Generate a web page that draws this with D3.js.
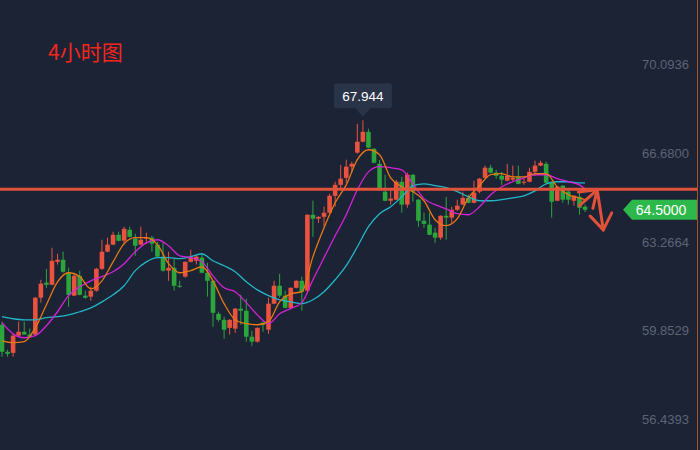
<!DOCTYPE html>
<html><head><meta charset="utf-8">
<script src="https://cdn.jsdelivr.net/npm/d3@7/dist/d3.min.js"></script>
<style>html,body{margin:0;padding:0;background:#1c2335;}svg{display:block}</style>
</head><body><svg id="c" width="700" height="450"></svg>
<script>
// ---- DATA ----
const title = "4小时图";
const opens = [60.08,59.04,59.00,59.66,59.81,59.70,59.70,61.12,61.70,61.62,62.50,62.58,62.08,61.20,61.96,61.20,61.16,61.39,62.23,62.89,63.16,63.54,63.31,63.73,63.39,63.16,63.39,63.43,63.16,62.70,62.16,62.27,61.58,61.93,62.50,62.54,62.66,62.08,61.77,60.50,60.27,59.96,59.93,60.70,60.62,59.62,59.43,60.16,59.89,60.89,61.58,61.20,60.73,61.50,61.77,61.39,64.31,64.16,64.23,64.39,65.04,65.46,65.73,66.16,66.70,67.12,67.50,66.85,66.27,65.20,64.85,64.89,65.58,64.70,65.85,64.89,64.08,63.93,63.62,63.43,64.27,64.20,64.50,64.70,64.96,64.77,65.20,65.73,66.12,65.93,65.81,65.62,65.66,65.77,65.54,65.58,65.96,66.20,66.27,65.54,64.85,65.43,65.20,64.85,65.00,64.62];
const closes = [59.04,58.96,59.66,59.81,59.70,59.62,61.12,61.66,61.62,62.54,62.58,62.12,61.23,61.96,61.23,61.12,61.39,62.23,62.89,63.16,63.54,63.31,63.77,63.46,63.12,63.35,63.43,63.20,62.70,62.16,62.27,61.58,61.54,62.50,62.66,62.70,62.08,61.77,60.54,60.27,59.89,60.27,60.70,60.62,59.62,59.43,59.96,60.08,60.89,61.58,61.20,60.73,61.50,61.77,61.35,64.31,64.16,64.23,64.39,65.04,65.46,65.70,66.16,66.27,67.12,67.50,66.89,66.31,65.27,64.85,64.93,65.58,64.70,65.85,65.20,64.08,63.96,63.54,63.43,64.27,64.20,64.50,64.66,64.96,64.77,65.16,65.70,66.12,65.93,65.81,65.66,65.81,65.73,65.50,65.58,65.96,66.20,66.31,65.54,64.81,65.39,64.89,64.89,65.04,64.58,64.50];
const highs = [60.20,59.12,59.73,60.20,60.20,59.93,61.14,61.81,62.23,63.04,62.81,62.89,62.27,62.08,62.16,61.39,61.54,62.27,63.35,63.43,63.66,63.66,63.85,63.85,63.58,63.85,63.62,63.50,63.27,63.23,62.89,62.62,61.77,62.52,62.96,62.77,62.81,62.46,61.79,60.58,60.39,60.29,60.72,61.23,61.08,59.85,59.98,60.20,61.12,61.77,62.04,61.39,61.52,61.79,61.93,64.33,64.85,64.25,64.62,65.12,65.58,66.23,66.43,66.35,67.81,67.944,67.62,66.87,66.42,65.85,65.27,65.65,65.77,65.93,65.87,64.91,64.39,64.39,63.81,64.29,65.00,64.62,64.89,65.20,65.08,65.62,65.72,66.20,66.23,66.04,65.96,66.27,66.20,66.20,65.73,66.12,66.39,66.39,66.35,65.56,65.41,65.45,65.27,65.06,65.16,64.70];
const lows = [58.85,58.85,58.85,59.62,59.70,59.58,59.70,60.93,61.50,61.60,62.39,62.08,60.77,61.18,61.21,61.08,61.00,61.35,62.19,62.87,63.14,63.29,63.16,63.44,62.73,63.14,63.20,62.89,62.68,62.12,61.77,61.39,61.50,61.89,62.48,62.39,62.06,61.16,60.00,60.20,59.54,59.70,59.77,60.08,59.43,59.27,59.39,59.81,59.73,60.87,61.12,60.71,60.71,61.48,60.62,61.37,63.46,64.00,63.85,64.37,64.62,65.27,65.54,65.96,66.66,67.10,66.87,66.29,65.25,64.83,64.70,64.87,64.39,64.58,64.81,63.85,63.81,63.52,63.23,63.35,63.35,64.00,64.46,64.68,64.75,64.75,65.14,65.71,65.91,65.70,65.46,65.60,65.60,65.48,65.46,65.56,65.81,66.18,65.52,64.20,64.83,64.77,64.70,64.66,64.31,64.42];

// moving-average lines, read at every second candle
const maIndex = [0,2,4,6,8,10,12,14,16,18,20,22,24,26,28,30,32,34,36,38,40,42,44,46,48,50,52,54,56,58,60,62,64,66,68,70,72,74,76,78,80,82,84,86,88,90,92,94,96,98,100,102,104,105];
const maFast = [59.46,59.39,59.43,59.96,60.85,61.73,62.08,61.93,61.46,61.77,62.50,63.20,63.43,63.43,63.16,62.43,62.08,62.16,62.31,61.77,60.89,60.27,60.12,60.08,60.20,60.96,61.27,61.35,62.70,63.81,64.77,65.46,66.43,66.81,66.62,65.73,65.39,65.20,64.85,64.12,63.89,64.16,64.96,65.43,65.85,65.89,65.77,65.77,65.89,65.89,65.39,65.08,64.96,64.89];
const maMid = [60.16,59.73,59.58,59.66,60.04,60.58,61.20,61.54,61.77,61.93,62.12,62.43,62.89,63.23,63.35,63.12,62.73,62.66,62.50,61.96,61.50,61.35,60.93,60.46,60.12,60.50,60.70,60.93,61.81,62.66,63.50,64.31,65.27,65.96,66.16,66.12,66.04,65.50,64.93,64.70,64.54,64.35,64.31,64.62,65.08,65.39,65.58,65.73,65.85,65.85,65.70,65.58,65.46,65.31];
const maSlow = [60.39,60.31,60.27,60.27,60.35,60.39,60.46,60.58,60.73,60.96,61.23,61.58,62.16,62.50,62.66,62.66,62.62,62.70,62.81,62.54,62.35,62.12,61.73,61.42,61.20,61.04,60.96,60.89,61.04,61.35,61.81,62.35,63.08,63.85,64.35,64.62,65.00,65.43,65.50,65.43,65.35,65.20,65.00,64.85,64.85,64.89,64.96,65.04,65.23,65.50,65.58,65.58,65.54,65.54];

const tickValues = [70.0936, 66.6800, 63.2664, 59.8529, 56.4393];
const keyLevel = 65.29;
const lastPrice = 64.50;
const peakIndex = 65, peakPrice = 67.944;
// annotation arrows in (candle index, price)
const arrowStarts = [[104.0, 64.66], [107.2, 65.27]];
const arrowEnds   = [[107.2, 65.27], [108.3, 63.73]];

// ---- CHART ----
const W = 700, H = 450;
const UP = "#e9523f", DOWN = "#2ca53c";
const svg = d3.select("#c");
svg.append("rect").attr("width", W).attr("height", H).attr("fill", "#1c2335");

const x = d3.scaleLinear().domain([0, 105]).range([2, 585]);
const y = d3.scaleLinear().domain([56.4393, 70.0936]).range([419.4, 64.4]);

// axis
const axis = d3.axisLeft(y).tickValues(tickValues).tickFormat(d3.format(".4f")).tickSize(0).tickPadding(0);
const ag = svg.append("g").attr("transform", "translate(689,0)").call(axis);
ag.select(".domain").remove();
ag.selectAll("text").attr("fill", "#5d6476")
  .style("font-family", '"Liberation Sans", Arial, sans-serif').style("font-size", "13px");

// right border line
svg.append("line").attr("x1", 697.5).attr("x2", 697.5).attr("y1", 0).attr("y2", H)
  .attr("stroke", "#a9522f").attr("stroke-width", 1);

// title
svg.append("text").attr("x", 48).attr("y", 60).text(title)
  .attr("fill", "#f4261c").style("font-family", '"Noto Sans CJK SC", sans-serif').style("font-size", "21px");

// candles
const bw = 4.6;
const candles = d3.range(opens.length).map(i => ({i, o: opens[i], c: closes[i], h: highs[i], l: lows[i]}));
const cg = svg.append("g");
cg.selectAll("line.w").data(candles).join("line")
  .attr("x1", d => x(d.i)).attr("x2", d => x(d.i))
  .attr("y1", d => y(d.h)).attr("y2", d => y(d.l))
  .attr("stroke", d => d.c >= d.o ? UP : DOWN).attr("stroke-width", 1);
cg.selectAll("rect").data(candles).join("rect")
  .attr("x", d => x(d.i) - bw / 2).attr("width", bw)
  .attr("y", d => y(Math.max(d.o, d.c)))
  .attr("height", d => Math.max(1, Math.abs(y(d.o) - y(d.c))))
  .attr("fill", d => d.c >= d.o ? UP : DOWN);

// moving averages
const line = d3.line().x(d => x(d[0])).y(d => y(d[1])).curve(d3.curveMonotoneX);
[[maSlow, "#22b7c8"], [maMid, "#d422d6"], [maFast, "#e87812"]].forEach(([vals, col]) => {
  svg.append("path").datum(maIndex.map((k, j) => [k, vals[j]]))
    .attr("d", line).attr("fill", "none").attr("stroke", col).attr("stroke-width", 1.3);
});

// key level
svg.append("line").attr("x1", 0).attr("x2", 697).attr("y1", y(keyLevel)).attr("y2", y(keyLevel))
  .attr("stroke", "#e2533b").attr("stroke-width", 3);

// arrows
const ARC = "#df5138";
arrowStarts.forEach((s, k) => {
  const e = arrowEnds[k];
  const x1 = x(s[0]), y1 = y(s[1]), x2 = x(e[0]), y2 = y(e[1]);
  svg.append("line").attr("x1", x1).attr("y1", y1).attr("x2", x2).attr("y2", y2)
    .attr("stroke", ARC).attr("stroke-width", 3).attr("stroke-linecap", "round");
  const len = Math.hypot(x1 - x2, y1 - y2), ux = (x1 - x2) / len, uy = (y1 - y2) / len;
  const hl = 19, a = 35 * Math.PI / 180;
  [a, -a].forEach(t => {
    const rx = ux * Math.cos(t) - uy * Math.sin(t), ry = ux * Math.sin(t) + uy * Math.cos(t);
    svg.append("line").attr("x1", x2).attr("y1", y2).attr("x2", x2 + rx * hl).attr("y2", y2 + ry * hl)
      .attr("stroke", ARC).attr("stroke-width", 3).attr("stroke-linecap", "round");
  });
});

// peak tooltip
const hx = x(peakIndex), hy = y(peakPrice);
svg.append("rect").attr("x", hx - 29).attr("y", hy - 37).attr("width", 58).attr("height", 25)
  .attr("rx", 3).attr("fill", "#2a3448");
svg.append("path").attr("d", `M${hx - 8},${hy - 12.5}L${hx + 8},${hy - 12.5}L${hx},${hy - 3.5}Z`).attr("fill", "#2a3448");
svg.append("text").attr("x", hx).attr("y", hy - 19.5).attr("text-anchor", "middle").text(d3.format(".3f")(peakPrice))
  .attr("fill", "#ffffff").style("font-family", '"Liberation Sans", Arial, sans-serif').style("font-size", "13.5px");

// last price label
const ly = y(lastPrice);
svg.append("path").attr("d", `M623,${ly}L632,${ly - 10}L697,${ly - 10}L697,${ly + 10}L632,${ly + 10}Z`).attr("fill", "#2db84b");
svg.append("text").attr("x", 661).attr("y", ly + 5).attr("text-anchor", "middle").text(d3.format(".4f")(lastPrice))
  .attr("fill", "#ffffff").style("font-family", '"Liberation Sans", Arial, sans-serif').style("font-size", "14px");
</script></body></html>
